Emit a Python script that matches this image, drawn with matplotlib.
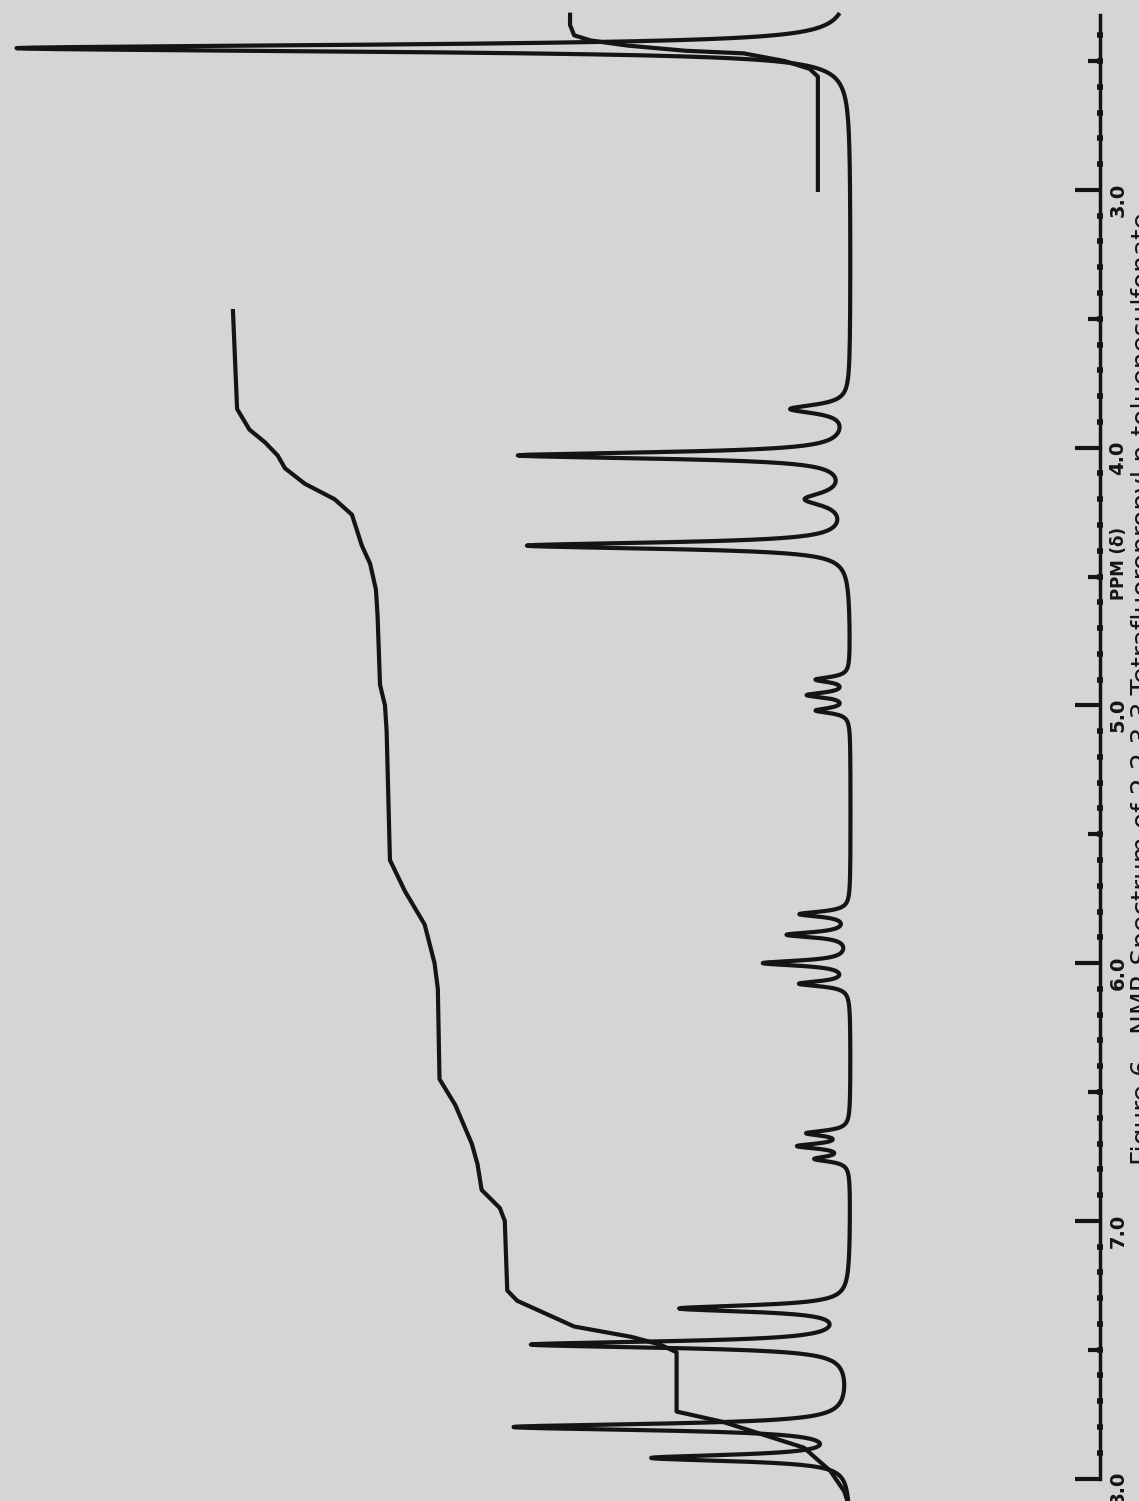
import numpy as np
import matplotlib.pyplot as plt

# peaks: position (ppm), height (chart units), half width (ppm)
peak_ppm = [2.45, 3.85, 4.03, 4.20, 4.38, 4.90, 4.96, 5.02, 5.81, 5.89, 6.00, 6.08,
            6.66, 6.71, 6.76, 7.34, 7.48, 7.80, 7.92]
peak_height = [101, 7, 40, 5, 39, 4, 5, 4, 6, 7.5, 10.4, 6,
               5, 6, 4, 20.3, 38.4, 40.4, 23.5]
peak_width = [0.016, 0.02, 0.015, 0.03, 0.015, 0.012, 0.012, 0.012, 0.012, 0.012, 0.012, 0.012,
              0.012, 0.012, 0.012, 0.015, 0.015, 0.015, 0.015]

# integral traces (ppm, chart units)
int1_ppm = [3.00, 2.56, 2.53, 2.50, 2.47, 2.46, 2.44, 2.42, 2.40, 2.36, 2.32]
int1_val = [4.0, 4.0, 5.0, 8.0, 13, 20, 27, 31.5, 33.5, 34.0, 34.0]
int2_ppm = [3.47, 3.85, 3.93, 3.98, 4.03, 4.08, 4.14, 4.20, 4.26, 4.33, 4.38, 4.45, 4.55,
            4.65, 4.92, 5.00, 5.10, 5.60, 5.72, 5.85, 6.00, 6.10, 6.45, 6.55, 6.70, 6.78,
            6.88, 6.95, 7.00, 7.27, 7.31, 7.41, 7.45, 7.48, 7.51, 7.74, 7.78, 7.88, 7.97,
            8.05, 8.09]
int2_val = [74.8, 74.3, 72.8, 70.9, 69.4, 68.5, 66.1, 62.5, 60.4, 59.7, 59.2, 58.2, 57.5,
            57.3, 57.0, 56.4, 56.2, 55.8, 54.0, 51.6, 50.4, 50.0, 49.8, 47.9, 45.9, 45.2,
            44.7, 42.5, 41.9, 41.6, 40.4, 33.5, 26.6, 23.1, 21.1, 21.1, 15.5, 5.7, 2.5,
            0.8, 0.4]

major_ticks = [3.0, 4.0, 5.0, 6.0, 7.0, 8.0]
tick_labels = ['3.0', '4.0', '5.0', '6.0', '7.0', '8.0']
half_ticks = [2.5, 3.5, 4.5, 5.5, 6.5, 7.5]
caption = 'Figure 6.  NMR Spectrum of 2,2,3,3-Tetrafluoropropyl p-toluenesulfonate'

ppm = np.linspace(2.32, 8.09, 6000)
spec = np.zeros_like(ppm)
for p, h, w in zip(peak_ppm, peak_height, peak_width):
    spec += h * w**2 / ((ppm - p)**2 + w**2)

ink = '#141414'
fig = plt.figure(figsize=(11.39, 15.01), dpi=100, facecolor='#d5d5d5')
ax = fig.add_axes([0, 0, 1100 / 1139, 1])
ax.patch.set_alpha(0)

ax.plot(spec, ppm, color=ink, lw=3)
ax.plot(int1_val, int1_ppm, color=ink, lw=3)
ax.plot(int2_val, int2_ppm, color=ink, lw=3)

ax.set_xlim(103.0, -30.15)
ax.set_ylim(8.087, 2.263)

# half-ppm ticks on a twin axis (twinx resets the tick side of ax, so do it first)
ax2 = ax.twinx()
ax2.set_ylim(ax.get_ylim())
ax2.set_yticks(half_ticks)
ax2.tick_params(axis='y', direction='in', length=9, width=3, labelright=False, color=ink)
for s in ax2.spines.values():
    s.set_visible(False)

for s in ['top', 'left', 'bottom']:
    ax.spines[s].set_visible(False)
ax.spines['right'].set_bounds(2.32, 8.0)
ax.spines['right'].set_linewidth(2.5)
ax.spines['right'].set_color(ink)
ax.set_xticks([])
ax.yaxis.set_ticks_position('right')
ax.set_yticks(major_ticks)
ax.set_yticklabels(tick_labels, rotation=90, fontweight='bold', fontsize=14, color=ink)
ax.set_yticks([round(v, 1) for v in np.arange(2.4, 8.0, 0.1)], minor=True)
ax.tick_params(axis='y', which='both', left=False, labelleft=False, right=True, labelright=True)
ax.tick_params(axis='y', which='major', direction='in', length=18, width=3, pad=6, color=ink)
ax.tick_params(axis='y', which='minor', direction='inout', length=5, width=4, color=ink)

ax.annotate('PPM (δ)', xy=(1, 4.45), xycoords=('axes fraction', 'data'), xytext=(7, 0),
            textcoords='offset points', rotation=90, ha='left', va='center',
            fontsize=12, fontweight='bold', color=ink)
fig.text(1131 / 1139, 1 - 212 / 1501, caption, rotation=90, ha='left', va='top',
         fontsize=19, color=ink)

fig.savefig('out.png', dpi=100, facecolor=fig.get_facecolor())
